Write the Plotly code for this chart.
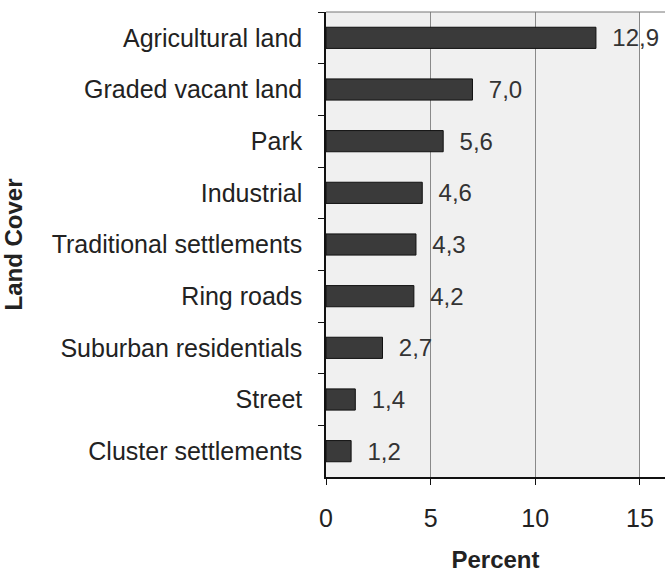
import plotly.graph_objects as go

# Land cover shares, top to bottom as drawn
land_cover = [
    "Agricultural land",
    "Graded vacant land",
    "Park",
    "Industrial",
    "Traditional settlements",
    "Ring roads",
    "Suburban residentials",
    "Street",
    "Cluster settlements",
]
percent = [12.9, 7.0, 5.6, 4.6, 4.3, 4.2, 2.7, 1.4, 1.2]
x_ticks = [0, 5, 10, 15]

FONT = "Liberation Sans, Arial, sans-serif"

fig = go.Figure()

fig.add_trace(
    go.Bar(
        x=percent,
        y=land_cover,
        orientation="h",
        width=0.41,
        marker=dict(color="#3a3a3a", line=dict(color="#111111", width=1)),
        texttemplate="  %{x:.1f}",
        textposition="outside",
        constraintext="none",
        textfont=dict(family=FONT, size=24, color="#333333"),
        cliponaxis=False,
        showlegend=False,
    )
)

# grey plot background stops at the last gridline
fig.add_shape(
    type="rect",
    xref="x",
    yref="paper",
    x0=0,
    x1=x_ticks[-1],
    y0=0,
    y1=1,
    fillcolor="#f0f0f0",
    line_width=0,
    layer="below",
)
# thin top border
fig.add_shape(
    type="line",
    xref="paper",
    yref="paper",
    x0=0,
    x1=1,
    y0=1,
    y1=1,
    line=dict(color="#777777", width=1),
)

fig.update_layout(
    width=665,
    height=573,
    margin=dict(l=326, r=0, t=12, b=96),
    plot_bgcolor="white",
    paper_bgcolor="white",
    separators=",.",
    font=dict(family=FONT, color="#222222"),
    xaxis=dict(
        range=[0, 16.2],
        tickvals=x_ticks,
        ticks="outside",
        ticklen=6,
        tickcolor="#111111",
        tickfont=dict(size=25),
        ticklabelstandoff=12,
        showline=True,
        linecolor="#111111",
        linewidth=2,
        showgrid=True,
        gridcolor="#8a8a8a",
        gridwidth=1,
        zeroline=False,
        title=dict(text="<b>Percent</b>", font=dict(size=24), standoff=24),
    ),
    yaxis=dict(
        autorange="reversed",
        ticks="outside",
        tickson="boundaries",
        ticklen=6,
        tickcolor="#111111",
        tickfont=dict(size=25),
        ticklabelstandoff=17,
        showline=True,
        linecolor="#111111",
        linewidth=1.5,
        showgrid=False,
        title=dict(text="<b>Land Cover</b>", font=dict(size=24), standoff=24),
    ),
)

# drop the default page margin so the figure sits flush in the window
fig.write_html(
    "out.html",
    config={"displayModeBar": False},
    post_script="document.body.style.margin='0';document.body.style.overflow='hidden';",
)
